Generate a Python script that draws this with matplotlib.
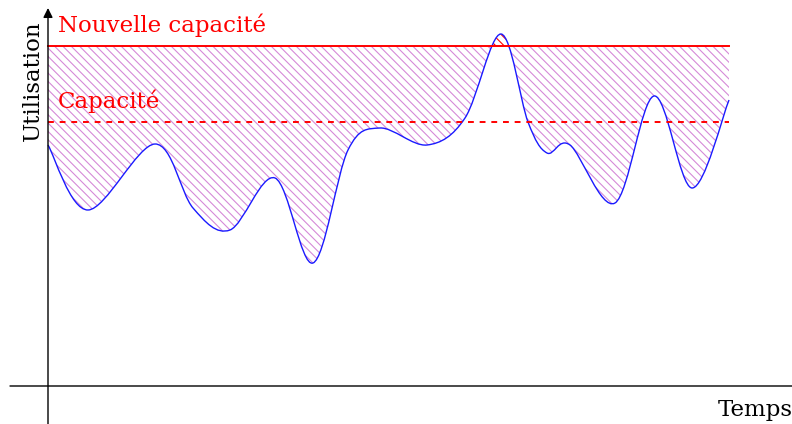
import numpy as np
import matplotlib
matplotlib.use("Agg")
import matplotlib.pyplot as plt
from matplotlib.path import Path
from matplotlib.patches import PathPatch

# time / utilisation points of the curve (origin = axes crossing)
temps = [0, 40, 107, 145, 182, 227, 265, 300, 332, 379, 417, 453, 480, 499, 522, 567, 606, 644, 681]
utilisation = [241, 176, 242, 178, 156, 208, 123, 236, 258, 241, 268, 352, 264, 233, 241, 183, 290, 198, 286]

capacite = 264
nouvelle_capacite = 340
t_end = 681

plt.rcParams['font.family'] = ['DejaVu Serif']
plt.rcParams['hatch.linewidth'] = 0.8

fig = plt.figure(figsize=(7.92, 4.24), dpi=100)
ax = fig.add_axes([0, 0, 1, 1])
ax.set_xlim(-48, 744)
ax.set_ylim(-38, 386)
ax.axis('off')


def smooth_path(xs, ys, tension=1 / 6):
    pts = np.column_stack([xs, ys]).astype(float)
    n = len(pts)
    verts = [pts[0]]
    codes = [Path.MOVETO]
    for i in range(n - 1):
        p0 = pts[max(i - 1, 0)]
        p1 = pts[i]
        p2 = pts[i + 1]
        p3 = pts[min(i + 2, n - 1)]
        c1 = p1 + (p2 - p0) * tension
        c2 = p2 - (p3 - p1) * tension
        verts += [c1, c2, p2]
        codes += [Path.CURVE4] * 3
    return verts, codes


verts, codes = smooth_path(temps, utilisation)

# closed region between the curve and the new capacity line
fill_verts = verts + [(temps[-1], nouvelle_capacite), (temps[0], nouvelle_capacite), verts[0]]
fill_codes = codes + [Path.LINETO, Path.LINETO, Path.CLOSEPOLY]
fill_path = Path(fill_verts, fill_codes)

below = PathPatch(fill_path, facecolor='none', edgecolor='#d58ad8', lw=0, hatch='\\\\\\\\')
ax.add_patch(below)
clip_below = plt.Rectangle((-48, -38), 792, nouvelle_capacite + 38, transform=ax.transData)
below.set_clip_path(clip_below)

above = PathPatch(fill_path, facecolor='none', edgecolor='red', lw=0, hatch='\\\\\\\\')
ax.add_patch(above)
clip_above = plt.Rectangle((-48, nouvelle_capacite), 792, 100, transform=ax.transData)
above.set_clip_path(clip_above)

ax.add_patch(PathPatch(Path(verts, codes), facecolor='none', edgecolor='#1a1aff', lw=1.0))

ax.plot([0, t_end], [nouvelle_capacite, nouvelle_capacite], color='red', lw=1.4)
ax.plot([0, t_end], [capacite, capacite], color='red', lw=1.4, dashes=(3, 3))

ax.text(10, nouvelle_capacite + 14, 'Nouvelle capacité', color='red', fontsize=16.5, va='baseline')
ax.text(10, capacite + 14, 'Capacité', color='red', fontsize=16.5, va='baseline')

# axes with arrows
ax.annotate('', xy=(0, 378), xytext=(0, -40), annotation_clip=False,
            arrowprops=dict(arrowstyle='-|>', color='black', lw=1.0,
                            mutation_scale=14, shrinkA=0, shrinkB=0))
ax.annotate('', xy=(760, 0), xytext=(-38, 0), annotation_clip=False,
            arrowprops=dict(arrowstyle='-|>', color='black', lw=1.0,
                            mutation_scale=14, shrinkA=0, shrinkB=0))

ax.text(-15, 305, 'Utilisation', rotation=90, fontsize=16.5, ha='center', va='center')
ax.text(670, -30, 'Temps', fontsize=16.5, ha='left', va='baseline')

fig.savefig('out.png', dpi=100)
